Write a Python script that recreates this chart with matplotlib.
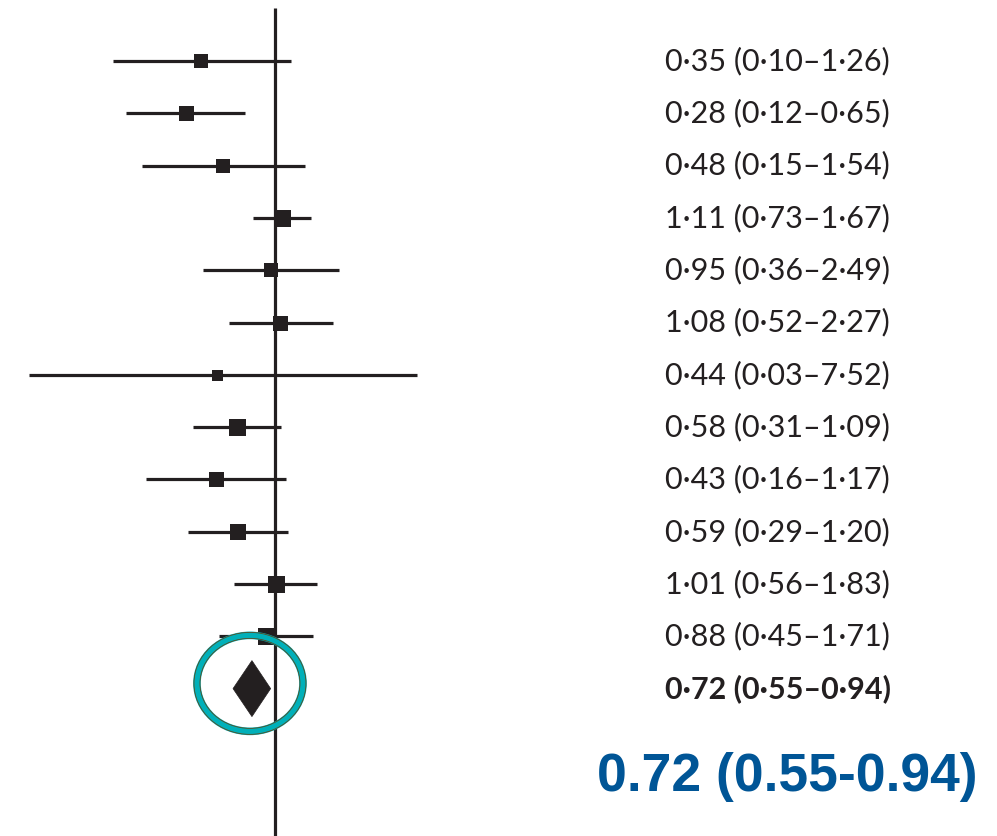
import numpy as np
import matplotlib
matplotlib.use("Agg")
import matplotlib.pyplot as plt
import matplotlib.transforms as mtransforms
from matplotlib.patches import Ellipse, Polygon

# study estimates (odds ratios and 95% CI)
est = [0.35, 0.28, 0.48, 1.11, 0.95, 1.08, 0.44, 0.58, 0.43, 0.59, 1.01, 0.88]
lo = [0.10, 0.12, 0.15, 0.73, 0.36, 0.52, 0.03, 0.31, 0.16, 0.29, 0.56, 0.45]
hi = [1.26, 0.65, 1.54, 1.67, 2.49, 2.27, 7.52, 1.09, 1.17, 1.20, 1.83, 1.71]
# relative box size (study weight)
weight = [14, 15, 14, 17, 14, 15, 11, 17, 15, 16, 17, 17]
labels = ["0·35 (0·10–1·26)", "0·28 (0·12–0·65)", "0·48 (0·15–1·54)",
          "1·11 (0·73–1·67)", "0·95 (0·36–2·49)", "1·08 (0·52–2·27)",
          "0·44 (0·03–7·52)", "0·58 (0·31–1·09)", "0·43 (0·16–1·17)",
          "0·59 (0·29–1·20)", "1·01 (0·56–1·83)", "0·88 (0·45–1·71)"]
pooled = [0.72, 0.55, 0.94]
pooled_label = "0·72 (0·55–0·94)"
big_label = "0.72 (0.55-0.94)"

W, H, DPI = 997, 836, 100
ink = "#231f20"
fig = plt.figure(figsize=(W / DPI, H / DPI), dpi=DPI)
ax_w = 480
ax = fig.add_axes([0, 0, ax_w / W, 1])
ax.set_xscale("log")
ppu = 70.2  # pixels per ln unit
x0 = 275.0
ax.set_xlim(np.exp(-x0 / ppu), np.exp((ax_w - x0) / ppu))
row0, step = 61.0, 52.3
ax.set_ylim((H - row0) / step, -row0 / step)
ax.axis("off")

# reference line
ax.plot([1, 1], [-(row0 - 8) / step, (H - row0) / step], color=ink, lw=2.3,
        solid_capstyle="butt", zorder=1)

n = len(est)
for i in range(n):
    ax.plot([lo[i], hi[i]], [i, i], color=ink, lw=2.3, solid_capstyle="butt", zorder=2)
    ax.plot(est[i], i, marker="s", ms=weight[i] * 72 / DPI, color=ink, mec=ink,
            mew=0, zorder=3)

# pooled diamond
yp = n
dh = 28 / step
dia = Polygon([[pooled[1], yp], [pooled[0], yp - dh], [pooled[2], yp], [pooled[0], yp + dh]],
              closed=True, facecolor=ink, edgecolor=ink, lw=0.5, zorder=3)
ax.add_patch(dia)

# highlight circle (drawn in pixel units around the diamond)
cx, cy = ax.transData.transform((0.70, yp - 0.1))
circ = Ellipse((cx, cy), 106, 96, transform=None, facecolor="none",
               edgecolor="#00b0b9", lw=5.5, zorder=4)
ax.add_artist(circ)
circ2 = Ellipse((cx, cy), 112, 102, transform=None, facecolor="none",
                edgecolor="#5a4a20", lw=0.6, zorder=4)
ax.add_artist(circ2)
circ3 = Ellipse((cx, cy), 100, 90, transform=None, facecolor="none",
                edgecolor="#5a4a20", lw=0.6, zorder=4)
ax.add_artist(circ3)

trans = mtransforms.blended_transform_factory(fig.transFigure, ax.transData)
tx = 665 / W
for i in range(n):
    ax.text(tx, i, labels[i], transform=trans, fontsize=22, family="Lato",
            color=ink, va="center", ha="left")
ax.text(tx, yp, pooled_label, transform=trans, fontsize=22, family="Lato",
        fontweight="bold", color=ink, va="center", ha="left")

fig.text(597 / W, 1 - 777 / H, big_label, fontsize=38.5, family="Liberation Sans",
         fontweight="bold", color="#005596", va="center", ha="left")

fig.savefig("out.png", dpi=DPI)
